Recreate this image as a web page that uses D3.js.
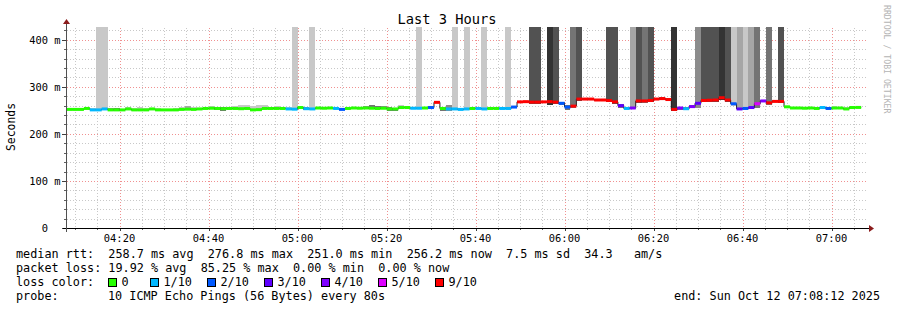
<!DOCTYPE html>
<html><head><meta charset="utf-8">
<script src="https://cdn.jsdelivr.net/npm/d3@7"></script>
<style>
html,body{margin:0;padding:0;background:#fff;}
svg{display:block;}
text{font-family:"DejaVu Sans Mono",monospace;white-space:pre;}
</style></head><body>
<svg id="c" width="897" height="310"></svg>
<script>
// ---------------- data ----------------
const title = "Last 3 Hours";
const yAxisLabel = "Seconds";
const watermark = "RRDTOOL / TOBI OETIKER";
const rangeStart = "2025-10-12T04:08:12Z";
const rangeEnd   = "2025-10-12T07:08:12Z";
const firstStep  = "2025-10-12T04:08:00Z";
const stepSeconds = 80;
const yMax = 425;

// median RTT per 80 s step (ms)
const median = [
 252,252,252,254,251,251,253,251,251,251,
 253,251,251,251,253,251,251,251,251,252,
 252.5,252,253,254,254.5,254,253.5,254,254,253.5,
 254,251,251.5,254,254,254,254,253,252.5,256,
 253.5,253,255,254.5,255,254,252,254,255,254.5,
 255,254.5,254,254.5,253,253,256,256,254.5,254.5,
 255,256,267,254,253,253,252,253,254,254,
 253,254,254,254,254,257,268,268.5,267.5,267.5,
 268,268.5,267.5,265,257,259,274,274,274,272,
 272,271,268,260,254,255,270,270,271,274,
 275,273,252,255,253.5,258,265,271,271.5,272,
 276.8,272,264,253,254,256,264,270,266,269,
 269,257.5,255,255,254.5,255,254,256,254,255,
 255,253,256,256.2
];
// lost pings out of 10 per step
const loss = [
 0,0,0,0,1,1,1,0,0,0,
 0,0,0,0,0,0,0,0,0,0,
 0,0,0,0,0,0,0,0,0,0,
 0,0,0,0,0,0,0,1,1,0,
 1,1,0,0,0,1,2,0,0,0,
 0,0,0,0,0,0,0,0,1,1,
 0,2,9,0,1,1,1,1,0,1,
 1,0,0,1,1,2,9,9,9,9,
 9,9,9,2,2,9,9,9,9,9,
 9,9,9,3,1,4,9,9,9,9,
 9,9,9,4,1,4,3,9,9,9,
 9,9,2,3,2,3,5,4,9,9,
 9,0,0,0,0,0,0,1,2,0,
 0,0,0,0
];
// smoke: lowest / highest ping per step (ms; 999 = beyond the top)
const smokeLo = [
 250,250,250,252,249,251,251,249,249,249,
 251,249,249,249,251,249,249,249,249,250,
 250.5,250,251,252,252.5,250,249.5,250,252,251.5,
 252,249,249.5,252,252,252,252,251,250.5,254,
 251.5,251,253,252.5,253,252,250,252,253,252.5,
 253,252.5,252,252.5,249,249,254,254,252.5,252.5,
 253,254,265,249,249,251,250,251,252,252,
 251,252,252,252,252,255,266,266.5,263,263,
 266,262,263,262,251,254,270,272,272,270,
 270,267,264,256,252,252,266,266,267,272,
 273,271,249,251,251.5,254,254,267,268,268,
 272,268,259,250,251,252,256,268,262,267,
 265,254,253,253,252.5,253,252,254,252,253,
 253,251,254,254
];
const smokeHi = [
 253,253,254,256,255,999,999,254,255,253,
 257,254,258,256,255,256,253,253,256,258,
 260,258,256,256,259,258,257,258,259,261,
 262,260,262,261,258,259,258,257,999,259,
 257,999,258,257,258,257,256,257,258,258,
 260,261,260,259,257,256,261,260,258,999,
 257,259,269,258,262,999,256,999,257,257,
 999,257,257,257,999,260,270,270,999,999,
 270,999,999,268,262,999,999,277,276,275,
 275,999,999,264,258,999,999,999,999,277,
 278,276,999,258,257,262,999,999,999,999,
 999,999,999,999,999,999,999,273,999,271,
 999,260,258,258,257,258,257,258,258,259,
 258,258,259,258
];
// smoke density (0 = light ... 5 = darkest)
const smokeShade = [
 0,0,0,0,0,0,0,2,3,0,
 0,0,0,0,0,0,2,0,0,0,
 1,0,0,2,0,3,3,0,0,0,
 0,0,0,0,2,0,0,0,0,0,
 2,0,0,0,0,0,0,0,0,0,
 2,3,3,2,3,3,0,0,0,0,
 0,3,2,3,2,0,0,0,0,0,
 0,0,0,0,0,0,3,3,4,4,
 3,5,4,3,3,3,4,3,3,3,
 3,4,4,3,3,1,4,3,4,3,
 3,3,5,3,3,3,2,4,4,4,
 5,4,0,1,0,1,3,3,3,3,
 4,3,2,2,2,0,2,0,0,0,
 0,0,0,0
];
const shadeColors = ["#c8c8c8","#a6a6a6","#8c8c8c","#747474","#525252","#333333"];

const lossLevels = [0,1,2,3,4,5,9];
const lossLabels = ["0","1/10","2/10","3/10","4/10","5/10","9/10"];
const lossColors = ["#26ff00","#00b8ff","#0059ff","#5e00ff","#7e00ff","#dd00ff","#ff0000"];

const yTicks = [0,100,200,300,400];
const yTickLabels = ["0  ","100 m","200 m","300 m","400 m"];
const xTickLabels = ["04:20","04:40","05:00","05:20","05:40","06:00","06:20","06:40","07:00"];

const legendRtt  = "median rtt:  258.7 ms avg  276.8 ms max  251.0 ms min  256.2 ms now  7.5 ms sd  34.3   am/s";
const legendLoss = "packet loss: 19.92 % avg  85.25 % max  0.00 % min  0.00 % now";
const legendColorHead = "loss color:";
const legendProbeHead = "probe:";
const legendProbe = "10 ICMP Echo Pings (56 Bytes) every 80s";
const legendEnd = "end: Sun Oct 12 07:08:12 2025";

// ---------------- drawing ----------------
const svg = d3.select("#c");
const L = 67, R = 868, T = 28, B = 228;
const x = d3.scaleUtc().domain([new Date(rangeStart), new Date(rangeEnd)]).range([L, R]);
const y = d3.scaleLinear().domain([0, yMax]).range([B, T]);

const t0 = new Date(firstStep).getTime();
const stepT = i => new Date(t0 + i * stepSeconds * 1000);
const steps = median.map((m, i) => ({i, m, loss: loss[i], lo: smokeLo[i], hi: smokeHi[i], sh: smokeShade[i]}));

svg.append("rect").attr("width", 897).attr("height", 310).attr("fill", "#fff");
svg.append("defs").append("clipPath").attr("id", "plot")
  .append("rect").attr("x", L).attr("y", T - 1).attr("width", R - L).attr("height", B - T + 1);

// grid (behind the graph)
const minorY = d3.range(0, yMax, 20);
const gridG = svg.append("g").attr("shape-rendering", "crispEdges");
gridG.selectAll("line.gy").data(minorY.filter(v => v % 100 !== 0)).join("line")
  .attr("x1", L).attr("x2", R).attr("y1", d => Math.round(y(d)) + 0.5).attr("y2", d => Math.round(y(d)) + 0.5)
  .attr("stroke", "#c8c8c8").attr("stroke-dasharray", "1,2");
const minorX = d3.utcMinute.every(5).range(new Date(rangeStart), new Date(rangeEnd));
gridG.selectAll("line.gx").data(minorX.filter(d => d.getUTCMinutes() % 20 !== 0)).join("line")
  .attr("x1", d => Math.round(x(d)) + 0.5).attr("x2", d => Math.round(x(d)) + 0.5).attr("y1", T).attr("y2", B)
  .attr("stroke", "#c8c8c8").attr("stroke-dasharray", "1,2");
gridG.selectAll("line.my").data(yTicks.filter(v => v > 0)).join("line")
  .attr("x1", L).attr("x2", R).attr("y1", d => Math.round(y(d)) + 0.5).attr("y2", d => Math.round(y(d)) + 0.5)
  .attr("stroke", "#f09090").attr("stroke-dasharray", "1,2");
const majorX = minorX.filter(d => d.getUTCMinutes() % 20 === 0);
gridG.selectAll("line.mx").data(majorX).join("line")
  .attr("x1", d => Math.round(x(d)) + 0.5).attr("x2", d => Math.round(x(d)) + 0.5).attr("y1", T).attr("y2", B)
  .attr("stroke", "#f09090").attr("stroke-dasharray", "1,2");

const g = svg.append("g").attr("clip-path", "url(#plot)");

// smoke
g.selectAll("rect.smoke").data(steps).join("rect").attr("class", "smoke")
  .attr("x", d => x(stepT(d.i)))
  .attr("width", d => x(stepT(d.i + 1)) - x(stepT(d.i)))
  .attr("y", d => y(Math.min(d.hi, yMax + 5)))
  .attr("height", d => y(d.lo) - y(Math.min(d.hi, yMax + 5)))
  .attr("fill", d => shadeColors[d.sh])
  .attr("shape-rendering", "crispEdges");

// median dark line
const linePts = steps.map(d => [stepT(d.i), d.m]);
linePts.push([stepT(steps.length), median[median.length - 1]]);
g.append("path").datum(linePts)
  .attr("d", d3.line().x(d => x(d[0])).y(d => y(d[1])).curve(d3.curveStepAfter))
  .attr("fill", "none").attr("stroke", "#202020").attr("stroke-width", 1);

// loss-coloured median band
const lossColor = v => lossColors[lossLevels.indexOf(v)];
g.selectAll("rect.med").data(steps).join("rect").attr("class", "med")
  .attr("x", d => x(stepT(d.i)))
  .attr("width", d => x(stepT(d.i + 1)) - x(stepT(d.i)))
  .attr("y", d => y(d.m) - 1.5).attr("height", 3)
  .attr("fill", d => lossColor(d.loss));

// axes
const axG = svg.append("g").attr("shape-rendering", "crispEdges");
axG.selectAll("line.yt").data(minorY).join("line")
  .attr("x1", L - 3).attr("x2", L).attr("y1", d => Math.round(y(d)) + 0.5).attr("y2", d => Math.round(y(d)) + 0.5)
  .attr("stroke", "#606060");
axG.selectAll("line.yM").data(yTicks).join("line")
  .attr("x1", L - 5).attr("x2", L).attr("y1", d => Math.round(y(d)) + 0.5).attr("y2", d => Math.round(y(d)) + 0.5)
  .attr("stroke", "#404040");
axG.selectAll("line.xt").data(minorX).join("line")
  .attr("x1", d => Math.round(x(d)) + 0.5).attr("x2", d => Math.round(x(d)) + 0.5)
  .attr("y1", B).attr("y2", B + 2).attr("stroke", "#606060");
axG.selectAll("line.xM").data(majorX).join("line")
  .attr("x1", d => Math.round(x(d)) + 0.5).attr("x2", d => Math.round(x(d)) + 0.5)
  .attr("y1", B).attr("y2", B + 3).attr("stroke", "#404040");
axG.append("line").attr("x1", L - 4).attr("x2", R + 2).attr("y1", B + 0.5).attr("y2", B + 0.5).attr("stroke", "#000");
axG.append("line").attr("x1", L - 0.5).attr("x2", L - 0.5).attr("y1", T - 5).attr("y2", B + 4).attr("stroke", "#505050");
svg.append("path").attr("d", `M${L - 4},${T - 4} L${L + 3},${T - 4} L${L - 0.5},${T - 9} Z`).attr("fill", "#8b1c1c");
svg.append("path").attr("d", `M${R + 1},${B - 3} L${R + 1},${B + 4} L${R + 6},${B + 0.5} Z`).attr("fill", "#8b1c1c");

// tick labels
svg.selectAll("text.yl").data(yTicks).join("text")
  .attr("x", 60.5).attr("y", d => y(d) + 3.8).attr("text-anchor", "end")
  .attr("font-size", "10.4px").attr("fill", "#000").text((d, i) => yTickLabels[i]);
svg.selectAll("text.xl").data(majorX).join("text")
  .attr("x", d => x(d)).attr("y", 241.5).attr("text-anchor", "middle")
  .attr("font-size", "10.4px").attr("fill", "#000").text((d, i) => xTickLabels[i]);

// title, axis label, watermark
svg.append("text").attr("x", 447).attr("y", 24).attr("text-anchor", "middle")
  .attr("font-size", "13.7px").attr("fill", "#000").text(title);
svg.append("text").attr("transform", "translate(14.5,127) rotate(-90)").attr("text-anchor", "middle")
  .attr("font-size", "11.4px").attr("fill", "#000").text(yAxisLabel);
svg.append("text").attr("transform", "translate(884,5) rotate(90)").attr("text-anchor", "start")
  .attr("font-size", "8.2px").attr("fill", "#b4b4b4").text(watermark);

// legend
const lf = "11.8px";
svg.append("text").attr("x", 16).attr("y", 258).attr("font-size", lf).text(legendRtt);
svg.append("text").attr("x", 16).attr("y", 272).attr("font-size", lf).text(legendLoss);
svg.append("text").attr("x", 16).attr("y", 286).attr("font-size", lf).text(legendColorHead);
svg.append("text").attr("x", 16).attr("y", 300).attr("font-size", lf).text(legendProbeHead);
svg.append("text").attr("x", 108).attr("y", 300).attr("font-size", lf).text(legendProbe);
svg.append("text").attr("x", 880).attr("y", 300).attr("text-anchor", "end").attr("font-size", lf).text(legendEnd);
const boxX = [108.5, 150.5, 207.5, 264.5, 321.5, 378.5, 435.5];
const lg = svg.selectAll("g.lg").data(lossLabels).join("g").attr("class", "lg")
  .attr("transform", (d, i) => `translate(${boxX[i]},278.5)`);
lg.append("rect").attr("width", 8).attr("height", 8).attr("fill", (d, i) => lossColors[i])
  .attr("stroke", "#000").attr("stroke-width", 1).attr("shape-rendering", "crispEdges");
lg.append("text").attr("x", 13).attr("y", 7.5).attr("font-size", lf).text(d => d);
</script>
</body></html>
